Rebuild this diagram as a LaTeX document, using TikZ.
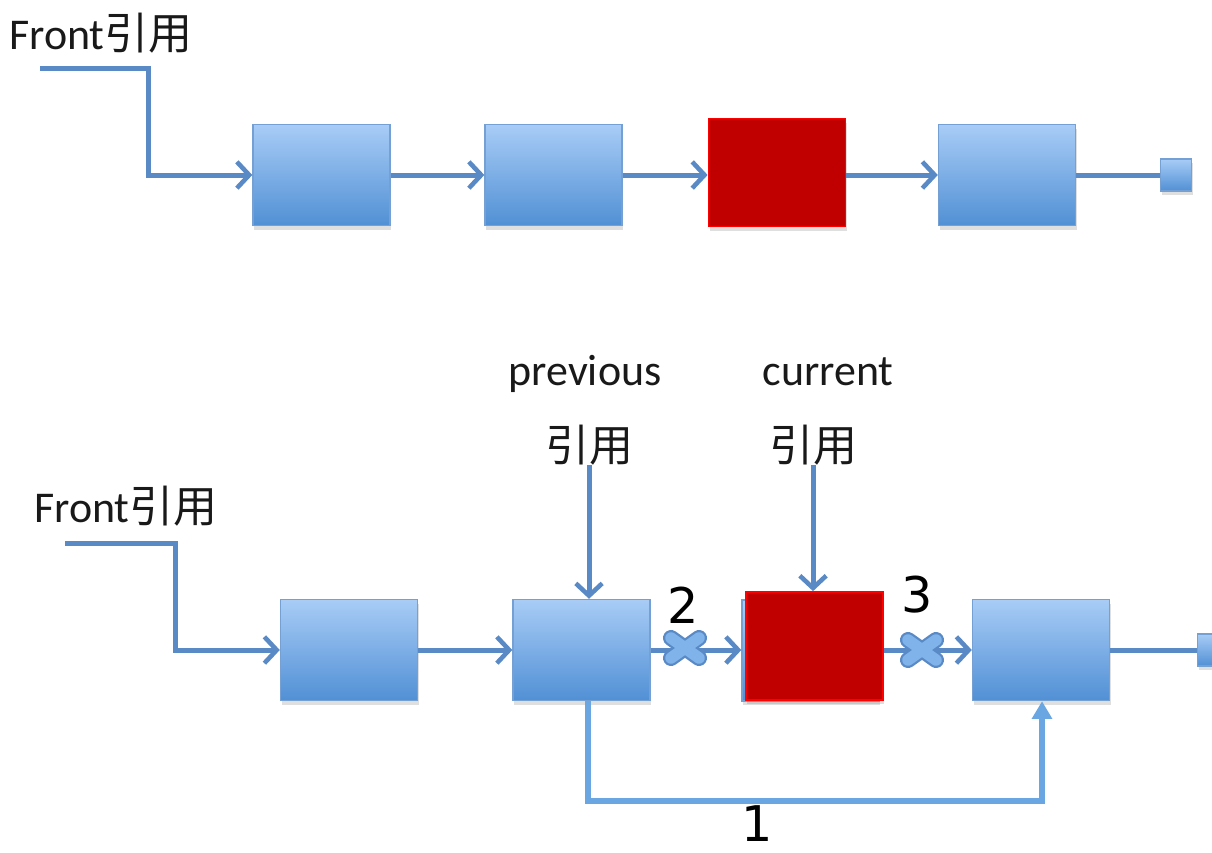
\documentclass[tikz,border=0pt]{standalone}
\usepackage{fontspec}
\setmainfont{Carlito}
\newfontfamily\cjk{Noto Sans CJK SC}
\newfontfamily\numfont{DejaVu Sans}
\usetikzlibrary{arrows.meta, shadows, positioning}
\definecolor{LLlink}{HTML}{5A8AC6}
\definecolor{LLbypass}{HTML}{69A6E2}
\definecolor{LLtop}{HTML}{A8CCF6}
\definecolor{LLbottom}{HTML}{5190D5}
\definecolor{LLedge}{HTML}{75A0D4}
\definecolor{LLred}{HTML}{C00000}
\definecolor{LLcross}{HTML}{80B3EA}

\tikzset{
  cell/.style={draw=LLedge, line width=0.8pt, top color=LLtop, bottom color=LLbottom,
    minimum width=2.74cm, minimum height=2.02cm, inner sep=0pt,
    drop shadow={opacity=0.25, shadow xshift=0.6pt, shadow yshift=-2.5pt}},
  target/.style={draw=red, line width=1pt, fill=LLred,
    minimum width=2.74cm, minimum height=2.16cm, inner sep=0pt,
    drop shadow={opacity=0.25, shadow xshift=0.6pt, shadow yshift=-2.5pt}},
  nil/.style={cell, minimum width=0.62cm, minimum height=0.64cm},
  link/.style={LLlink, line width=0.1cm,
    -{Straight Barb[length=7pt, width=15pt, line width=2.6pt]}},
  bypass/.style={LLbypass, line width=0.12cm, -{Triangle[length=10pt, width=11pt]}},
  lbl/.style={inner sep=0pt, text=black!90, font=\fontsize{25}{30}\selectfont},
  num/.style={inner sep=0pt, font=\numfont\fontsize{28}{33}\selectfont},
  breakmark/.pic={
    \draw[LLlink, line width=0.32cm, line cap=round] (-14,-10) -- (14,10) (-14,10) -- (14,-10);
    \draw[LLcross, line width=0.23cm, line cap=round] (-14,-10) -- (14,10) (-14,10) -- (14,-10);
  }
}

\begin{document}
\begin{tikzpicture}[x=0.02cm, y=-0.02cm]
  \clip (0,0) rectangle (1212,852);

  % upper list
  \node[lbl, anchor=base west] (topfront) at (9,49) {Front{\cjk 引用}};
  \coordinate (topstart) at (40,68);
  \coordinate (topbend) at (148,68);
  \node[cell] (t1) at (321.5,175) {};
  \node[cell] (t2) at (553.5,175) {};
  \node[target] (t3) at (777,172.5) {};
  \node[cell] (t4) at (1007,175) {};
  \node[nil] (tnil) at (1176,175) {};
  \draw[link] (topstart) -- (topbend) |- (t1);
  \draw[link] (t1) -- (t2);
  \draw[link] (t2.east) -- (t2.east -| t3.west);
  \draw[link] (t3.east |- t4.west) -- (t4);
  \draw[link, -] (t4) -- (tnil);

  % lower list, removing current
  \node[lbl, anchor=base west] (botfront) at (34,522) {Front{\cjk 引用}};
  \coordinate (botstart) at (65,543);
  \coordinate (botbend) at (175,543);
  \node[lbl, anchor=base] (prevname) at (585,385) {previous};
  \node[lbl, anchor=base] (curname) at (828,385) {current};
  \node[lbl] (prevref) at (589,445) {\cjk 引用};
  \node[lbl] (curref) at (813,445) {\cjk 引用};

  \node[cell] (b1) at (349,650) {};
  \node[cell] (b2) at (581.5,650) {};
  \node[cell] (b3back) at (810.5,650.5) {};
  \node[target] (b3) at (814.5,646) {};
  \node[cell] (b4) at (1041,650) {};
  \node[nil] (bnil) at (1213,650) {};

  \draw[link] (botstart) -- (botbend) |- (b1);
  \draw[link] (b1) -- (b2);
  \draw[link] (b2.east) -- (b2.east -| b3back.west);
  \draw[link] (b3.east |- b4.west) -- (b4);
  \draw[link, -] (b4) -- (bnil);
  \draw[link] (prevref.south) -- (prevref.south |- b2.north);
  \draw[link] (curref.south) -- (curref.south |- b3.north);

  % step 1: bypass, steps 2 and 3: cut links
  \draw[bypass] ([xshift=0.12cm]b2.south) -- ++(0,100) -| ([xshift=0.02cm]b4.south);
  \pic at (685,648) {breakmark};
  \pic at (922,650) {breakmark};
  \node[num] (one) at (757,824) {1};
  \node[num] (two) at (683,605) {2};
  \node[num] (three) at (917,595) {3};
\end{tikzpicture}
\end{document}
